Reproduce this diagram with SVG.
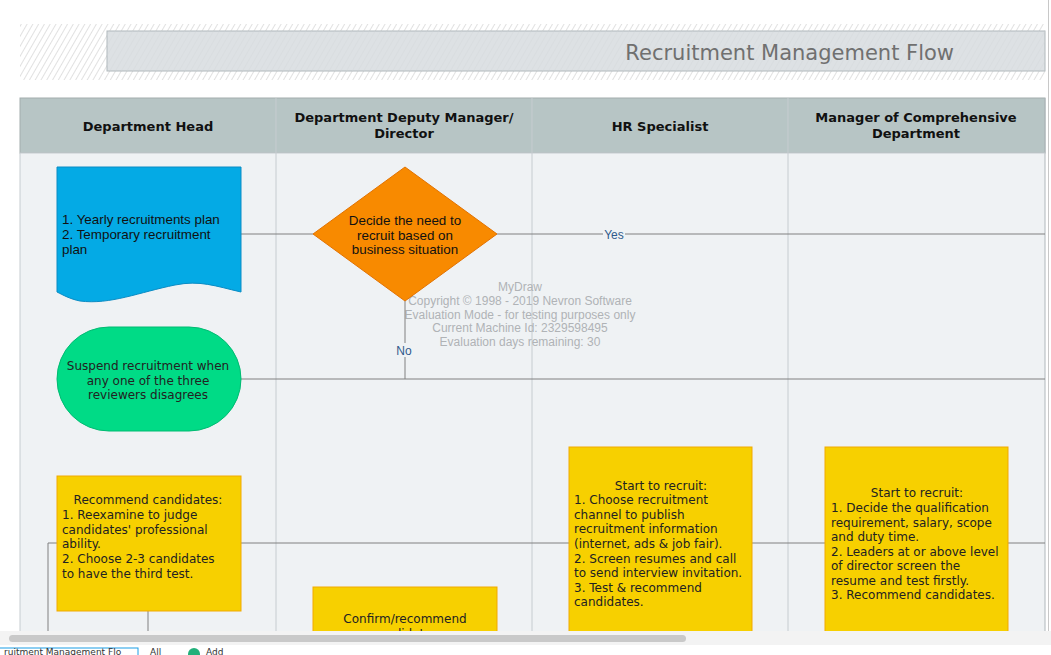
<svg xmlns="http://www.w3.org/2000/svg" width="1051" height="655" viewBox="0 0 1051 655">
<defs>
<pattern id="hatch" width="5" height="5" patternUnits="userSpaceOnUse" patternTransform="rotate(30)">
<line x1="0" y1="0" x2="0" y2="5" stroke="#c4c4c4" stroke-width="1"/>
</pattern>
<pattern id="hatch2" width="5" height="5" patternUnits="userSpaceOnUse" patternTransform="rotate(30)">
<line x1="0" y1="0" x2="0" y2="5" stroke="#cfd3d6" stroke-width="1"/>
</pattern>
<clipPath id="tabclip"><rect x="0" y="645" width="137" height="10"/></clipPath>
</defs>
<style>
.hdr{font-family:"DejaVu Sans",Verdana,sans-serif;font-weight:bold;font-size:13px;fill:#111;text-anchor:middle}
.lane{stroke:#c6ccd0;stroke-width:1}
.conn{stroke:#808080;stroke-width:1;fill:none}
.ar{font-family:"Liberation Sans",Arial,sans-serif;font-size:13.4px;fill:#111}
.dv{font-family:"DejaVu Sans",Verdana,sans-serif;font-size:12px;fill:#222}
.lbl{font-family:"Liberation Sans",Arial,sans-serif;font-size:12px;fill:#2f5a8c;text-anchor:middle}
.wm{font-family:"Liberation Sans",Arial,sans-serif;font-size:12px;fill:#b0b3b6;text-anchor:middle}
.yel{fill:#f7d000;stroke:#f2a900;stroke-width:1}
.ui{font-family:"DejaVu Sans",Verdana,sans-serif;font-size:9px;fill:#333}
</style>
<rect x="0" y="0" width="1051" height="655" fill="#ffffff"/>
<!-- title band -->
<g id="title">
<rect x="20" y="24" width="1025" height="56" fill="url(#hatch)"/>
<rect x="107" y="31" width="938" height="40" fill="#dde1e4" stroke="#b0b8bc"/>
<rect x="107" y="31" width="938" height="40" fill="url(#hatch2)" opacity="0.6"/>
<text x="954" y="60" font-family="DejaVu Sans,Verdana,sans-serif" font-size="21" fill="#707070" text-anchor="end">Recruitment Management Flow</text>
</g>
<!-- lanes -->
<g id="lanes">
<rect x="20" y="98" width="1025" height="55" fill="#b7c5c5" stroke="#a3adad"/>
<rect x="20" y="153" width="1025" height="480" fill="#eff2f4"/>
<line class="lane" x1="20" y1="153" x2="20" y2="633"/>
<line class="lane" x1="276" y1="98" x2="276" y2="633"/>
<line class="lane" x1="532" y1="98" x2="532" y2="633"/>
<line class="lane" x1="788" y1="98" x2="788" y2="633"/>
<line x1="1045" y1="98" x2="1045" y2="633" stroke="#b0b8bc"/>
<line x1="20" y1="153" x2="1045" y2="153" stroke="#c6ccd0"/>
<text class="hdr" x="148" y="131">Department Head</text>
<text class="hdr" x="404" y="122">Department Deputy Manager/</text>
<text class="hdr" x="404" y="138">Director</text>
<text class="hdr" x="660" y="131">HR Specialist</text>
<text class="hdr" x="916" y="122">Manager of Comprehensive</text>
<text class="hdr" x="916" y="138">Department</text>
</g>
<!-- watermark -->
<g id="watermark">
<text class="wm" x="520" y="291">MyDraw</text>
<text class="wm" x="520" y="305">Copyright © 1998 - 2019 Nevron Software</text>
<text class="wm" x="520" y="319">Evaluation Mode - for testing purposes only</text>
<text class="wm" x="520" y="332">Current Machine Id: 2329598495</text>
<text class="wm" x="520" y="346">Evaluation days remaining: 30</text>
</g>
<!-- connectors -->
<g id="connectors">
<line class="conn" x1="241" y1="234" x2="313" y2="234"/>
<line class="conn" x1="497" y1="234" x2="1045" y2="234"/>
<line class="conn" x1="405" y1="301" x2="405" y2="379"/>
<line class="conn" x1="241" y1="379" x2="1045" y2="379"/>
<line class="conn" x1="48" y1="543" x2="57" y2="543"/>
<line class="conn" x1="48" y1="543" x2="48" y2="633"/>
<line class="conn" x1="148" y1="611" x2="148" y2="633"/>
<line class="conn" x1="241" y1="543" x2="569" y2="543"/>
<line class="conn" x1="752" y1="543" x2="825" y2="543"/>
<line class="conn" x1="1008" y1="543" x2="1045" y2="543"/>
<rect x="603" y="227" width="22" height="14" fill="#eff2f4"/>
<text class="lbl" x="614" y="239">Yes</text>
<rect x="395" y="343" width="19" height="14" fill="#eff2f4"/>
<text class="lbl" x="404" y="355">No</text>
</g>
<!-- nodes -->
<g id="plan">
<path d="M57,167 H241 V292 C215,286 200,280 175,285 C140,292 110,305 80,301 C70,299 63,295 57,292 Z" fill="#04aae5" stroke="#0b8cc4"/>
<text class="ar" x="62" y="224">1. Yearly recruitments plan</text>
<text class="ar" x="62" y="239">2. Temporary recruitment</text>
<text class="ar" x="62" y="254">plan</text>
</g>
<g id="decide">
<polygon points="405,167 497,234 405,301 313,234" fill="#f88a00" stroke="#e27200"/>
<text class="ar" x="405" y="225" text-anchor="middle">Decide the need to</text>
<text class="ar" x="405" y="240" text-anchor="middle">recruit based on</text>
<text class="ar" x="405" y="254" text-anchor="middle">business situation</text>
</g>
<g id="suspend">
<rect x="57" y="327" width="184" height="104" rx="52" ry="52" fill="#00db86" stroke="#00bb72"/>
<text class="dv" x="148" y="370" text-anchor="middle">Suspend recruitment when</text>
<text class="dv" x="148" y="385" text-anchor="middle">any one of the three</text>
<text class="dv" x="148" y="399" text-anchor="middle">reviewers disagrees</text>
</g>
<g id="recommend">
<rect class="yel" x="57" y="476" width="184" height="135"/>
<text class="dv" x="148" y="504" text-anchor="middle">Recommend candidates:</text>
<text class="dv" x="62" y="519">1. Reexamine to judge</text>
<text class="dv" x="62" y="534">candidates' professional</text>
<text class="dv" x="62" y="548">ability.</text>
<text class="dv" x="62" y="563">2. Choose 2-3 candidates</text>
<text class="dv" x="62" y="578">to have the third test.</text>
</g>
<g id="confirm">
<rect class="yel" x="313" y="587" width="184" height="70"/>
<text class="dv" x="405" y="623" text-anchor="middle">Confirm/recommend</text>
<text class="dv" x="405" y="638" text-anchor="middle">candidates</text>
</g>
<g id="hr">
<rect class="yel" x="569" y="447" width="183" height="210"/>
<text class="dv" x="661" y="490" text-anchor="middle">Start to recruit:</text>
<text class="dv" x="574" y="504">1. Choose recruitment</text>
<text class="dv" x="574" y="519">channel to publish</text>
<text class="dv" x="574" y="533">recruitment information</text>
<text class="dv" x="574" y="548">(internet, ads &amp; job fair).</text>
<text class="dv" x="574" y="563">2. Screen resumes and call</text>
<text class="dv" x="574" y="577">to send interview invitation.</text>
<text class="dv" x="574" y="592">3. Test &amp; recommend</text>
<text class="dv" x="574" y="606">candidates.</text>
</g>
<g id="manager">
<rect class="yel" x="825" y="447" width="183" height="210"/>
<text class="dv" x="917" y="497" text-anchor="middle">Start to recruit:</text>
<text class="dv" x="831" y="512">1. Decide the qualification</text>
<text class="dv" x="831" y="527">requirement, salary, scope</text>
<text class="dv" x="831" y="541">and duty time.</text>
<text class="dv" x="831" y="556">2. Leaders at or above level</text>
<text class="dv" x="831" y="570">of director screen the</text>
<text class="dv" x="831" y="585">resume and test firstly.</text>
<text class="dv" x="831" y="599">3. Recommend candidates.</text>
</g>
<!-- window chrome -->
<g id="chrome">
<rect x="1046" y="0" width="5" height="633" fill="#ffffff"/>
<line x1="1048.5" y1="0" x2="1048.5" y2="633" stroke="#c8c8c8"/>
<rect x="0" y="631" width="1051" height="14" fill="#f3f3f3"/>
<rect x="9" y="635" width="677" height="7" rx="3.5" fill="#c9c9c9"/>
<rect x="0" y="645" width="1051" height="10" fill="#ffffff"/>
<rect x="-1" y="648" width="139" height="12" fill="#ffffff" stroke="#1a9ee6"/>
<text class="ui" x="4" y="654.5">ruitment Management Flo</text>
<text class="ui" x="150" y="654.5">All</text>
<circle cx="194" cy="654" r="6" fill="#22b07a"/>
<text class="ui" x="206" y="654.5">Add</text>
</g>
</svg>
